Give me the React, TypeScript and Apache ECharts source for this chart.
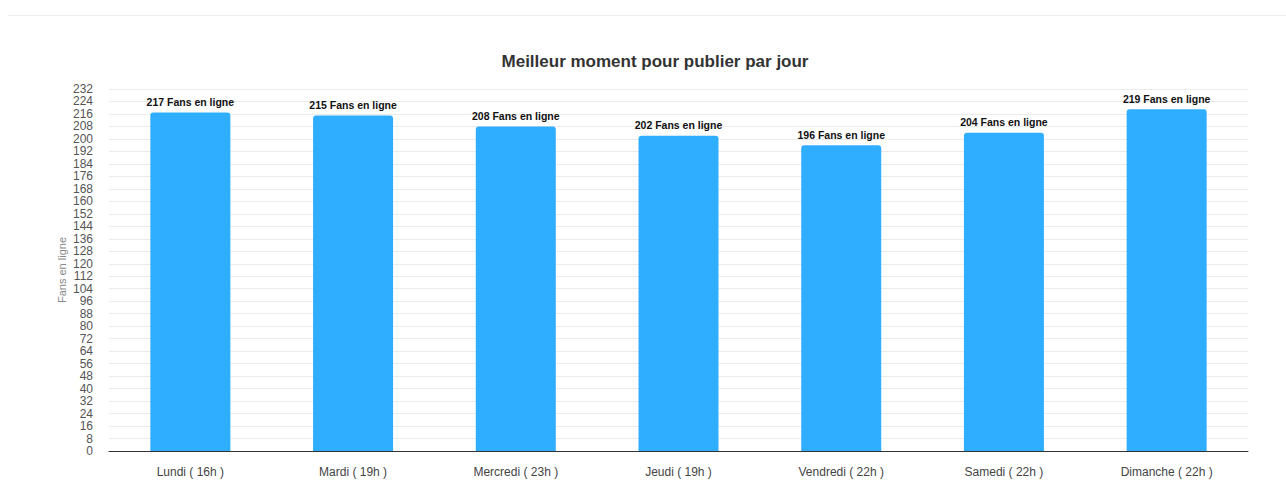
import React, { useEffect, useRef } from 'react';
import * as echarts from 'echarts';

const days = [
  'Lundi ( 16h )',
  'Mardi ( 19h )',
  'Mercredi ( 23h )',
  'Jeudi ( 19h )',
  'Vendredi ( 22h )',
  'Samedi ( 22h )',
  'Dimanche ( 22h )'
];
const fansOnline = [217, 215, 208, 202, 196, 204, 219];
const yMax = 232;
const yStep = 8;

const FONT = '"Helvetica Neue", Helvetica, "Liberation Sans", Arial, sans-serif';

export default function App() {
  const chartRef = useRef<HTMLDivElement>(null);

  useEffect(() => {
    if (!chartRef.current) return;
    const chart = echarts.init(chartRef.current, undefined, { renderer: 'svg' });

    const option: any = {
      animation: false,
      textStyle: { fontFamily: FONT },
      title: {
        text: 'Meilleur moment pour publier par jour',
        left: 642,
        top: 40,
        textAlign: 'center',
        textStyle: { fontSize: 17, fontWeight: 'bold', color: '#333333', fontFamily: FONT }
      },
      graphic: [
        {
          type: 'line',
          shape: { x1: 0, y1: 7.5, x2: 1278, y2: 7.5 },
          style: { stroke: '#eeeeee', lineWidth: 1 }
        }
      ],
      grid: { left: 101, right: 38, top: 81, bottom: 41, containLabel: false },
      xAxis: {
        type: 'category',
        data: days,
        axisLine: { lineStyle: { color: '#333333', width: 1 } },
        axisTick: { show: false },
        axisLabel: { color: '#444444', fontSize: 12, margin: 15, interval: 0 }
      },
      yAxis: {
        type: 'value',
        min: 0,
        max: yMax,
        interval: yStep,
        name: 'Fans en ligne',
        nameLocation: 'middle',
        nameGap: 42,
        nameMoveOverlap: false,
        nameTextStyle: { color: '#888888', fontSize: 11 },
        axisLine: { show: false },
        axisTick: { show: false },
        axisLabel: { color: '#555555', fontSize: 12, margin: 16 },
        splitLine: { lineStyle: { color: '#ebebeb', width: 1 } }
      },
      series: [
        {
          type: 'bar',
          data: fansOnline,
          barWidth: 80,
          itemStyle: { color: '#2faeff', borderRadius: [3, 3, 0, 0] },
          label: {
            show: true,
            position: 'top',
            distance: 5,
            formatter: (p: any) => `${p.value} Fans en ligne`,
            color: '#111111',
            fontSize: 10.5,
            fontWeight: 'bold'
          }
        }
      ]
    };

    chart.setOption(option);
    return () => chart.dispose();
  }, []);

  return (
    <div
      ref={chartRef}
      style={{ position: 'absolute', left: 8, top: 8, right: 0, height: 484 }}
    />
  );
}
